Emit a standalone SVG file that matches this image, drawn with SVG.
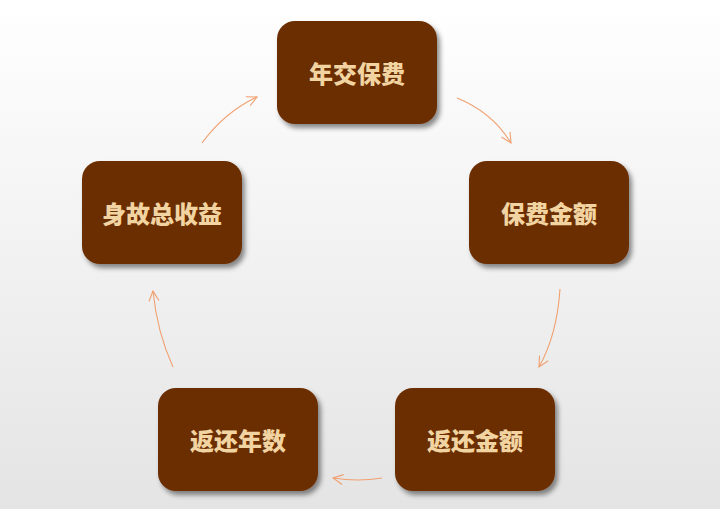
<svg xmlns="http://www.w3.org/2000/svg" width="720" height="509" viewBox="0 0 720 509">
<defs>
<linearGradient id="bg" x1="0" y1="0" x2="0" y2="1">
<stop offset="0" stop-color="#ffffff"/>
<stop offset="1" stop-color="#e4e4e4"/>
</linearGradient>
<filter id="sh" x="-10%" y="-10%" width="125%" height="130%">
<feDropShadow dx="3" dy="4" stdDeviation="2.5" flood-color="#000" flood-opacity="0.45"/>
</filter>
<marker id="ah" viewBox="0 0 12 12" refX="11" refY="6" markerWidth="12" markerHeight="12" markerUnits="userSpaceOnUse" orient="auto">
<path d="M1,1 L11,6 L1,11" fill="none" stroke="#F0A070" stroke-width="1.1"/>
</marker>
<style>
.box{fill:#6B2D00;filter:url(#sh)}
.lbl{fill:#F2D4A2;font-family:"Noto Sans CJK SC","Noto Sans",sans-serif;font-weight:900;font-size:24px;text-anchor:middle;dominant-baseline:central}
.c{fill:none;stroke:#F0A070;stroke-width:1.1;marker-end:url(#ah)}
</style>
</defs>
<rect width="720" height="509" fill="url(#bg)"/>
<g id="connectors">
<path class="c" d="M457,98 Q492,112 511,143"/>
<path class="c" d="M560,289 Q557,335 539,367"/>
<path class="c" d="M382,478 Q358,482 333,478"/>
<path class="c" d="M173,367 Q157,332 153,291"/>
<path class="c" d="M202,143 Q225,112 257,97"/>
</g>
<g id="n1"><rect class="box" x="277" y="21" width="160" height="103" rx="18"/><text class="lbl" x="357" y="72">年交保费</text></g>
<g id="n2"><rect class="box" x="469" y="161" width="160" height="103" rx="18"/><text class="lbl" x="549" y="212">保费金额</text></g>
<g id="n3"><rect class="box" x="395" y="388" width="160" height="103" rx="18"/><text class="lbl" x="475" y="439">返还金额</text></g>
<g id="n4"><rect class="box" x="158" y="388" width="160" height="103" rx="18"/><text class="lbl" x="238" y="439">返还年数</text></g>
<g id="n5"><rect class="box" x="82" y="161" width="160" height="103" rx="18"/><text class="lbl" x="162" y="212">身故总收益</text></g>
</svg>
